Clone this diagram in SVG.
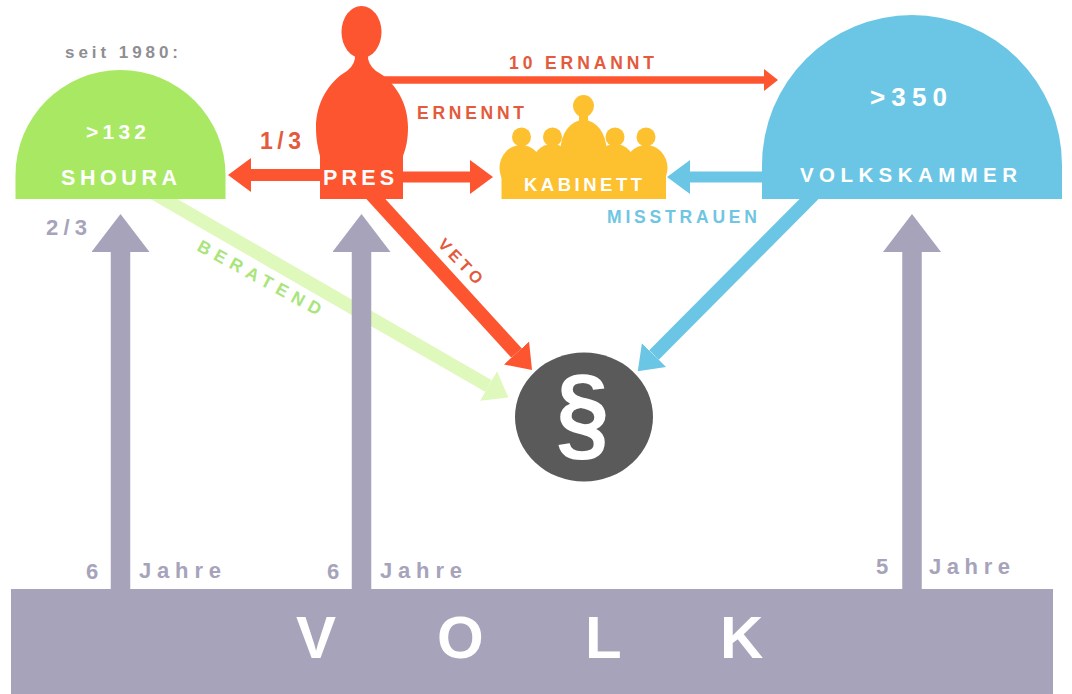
<svg xmlns="http://www.w3.org/2000/svg" width="1072" height="694" viewBox="0 0 1072 694">
<style>
text{font-family:"Liberation Sans",Arial,sans-serif;font-weight:bold}
.w{fill:#fff}
.red{fill:#fd5530}.yel{fill:#fdc02f}.grn{fill:#a9e863}.blu{fill:#6bc6e5}.pur{fill:#a6a3bb}
.tr{fill:#e45a3c}.tp{fill:#a6a3bb}.tb{fill:#6fc5e2}.tg{fill:#a9e57a}.tq{fill:#8e8e93}
.lp{stroke:#a6a3bb;stroke-width:19.5;fill:none}
.lr{stroke:#fd5530;fill:none}
.lb{stroke:#6bc6e5;fill:none}
</style>
<defs>
<marker id="hp" markerUnits="userSpaceOnUse" markerWidth="38" markerHeight="58" refX="0" refY="29" orient="auto"><path d="M0 0L38 29L0 58Z" fill="#a6a3bb"/></marker>
<marker id="hr" markerUnits="userSpaceOnUse" markerWidth="23" markerHeight="34" refX="0" refY="17" orient="auto"><path d="M0 0L23 17L0 34Z" fill="#fd5530"/></marker>
<marker id="hs" markerUnits="userSpaceOnUse" markerWidth="14" markerHeight="22" refX="0" refY="11" orient="auto"><path d="M0 0L14 11L0 22Z" fill="#fd5530"/></marker>
<marker id="hb" markerUnits="userSpaceOnUse" markerWidth="23" markerHeight="34" refX="0" refY="17" orient="auto"><path d="M0 0L23 17L0 34Z" fill="#6bc6e5"/></marker>
<marker id="hg" markerUnits="userSpaceOnUse" markerWidth="23" markerHeight="34" refX="0" refY="17" orient="auto"><path d="M0 0L23 17L0 34Z" fill="#dff8bb"/></marker>
</defs>
<rect width="1072" height="694" fill="#fff"/>
<g id="connectors">
<line x1="150" y1="191" x2="488.5" y2="386" stroke="#dff8bb" stroke-width="13.5" marker-end="url(#hg)"/>
<line class="lp" x1="120.5" y1="592" x2="120.5" y2="252" marker-end="url(#hp)"/>
<line class="lp" x1="361.5" y1="592" x2="361.5" y2="252" marker-end="url(#hp)"/>
<line class="lp" x1="912" y1="592" x2="912" y2="252" marker-end="url(#hp)"/>
<line class="lr" stroke-width="7.5" x1="370" y1="80" x2="764" y2="80" marker-end="url(#hs)"/>
<line class="lr" stroke-width="12" x1="330" y1="175" x2="251" y2="175" marker-end="url(#hr)"/>
<line class="lr" stroke-width="11" x1="395" y1="177" x2="470" y2="177" marker-end="url(#hr)"/>
<line class="lr" stroke-width="14" x1="364" y1="186" x2="516.5" y2="353" marker-end="url(#hr)"/>
<line class="lb" stroke-width="11" x1="770" y1="177" x2="690" y2="177" marker-end="url(#hb)"/>
<line class="lb" stroke-width="13.5" x1="822" y1="186" x2="654" y2="355" marker-end="url(#hb)"/>
<text class="tr" font-size="17.5" x="509" y="69" textLength="145">10 ERNANNT</text>
<text class="tr" font-size="17.5" x="417" y="119" textLength="107">ERNENNT</text>
<text class="tr" font-size="23" x="260" y="149" textLength="41">1/3</text>
<text class="tp" font-size="22" x="46" y="235" textLength="41">2/3</text>
<text class="tb" font-size="17.5" x="607" y="223" textLength="150">MISSTRAUEN</text>
<text class="tg" font-size="17.5" transform="translate(196 250) rotate(28.5)" textLength="138">BERATEND</text>
<text class="tr" font-size="16.5" transform="translate(437 245) rotate(46)" textLength="56">VETO</text>
<text class="tq" font-size="17" x="65" y="58" textLength="113">seit 1980:</text>
<text class="tp" font-size="22" x="86" y="579">6</text>
<text class="tp" font-size="22" x="139" y="578" textLength="82">Jahre</text>
<text class="tp" font-size="22" x="327" y="579">6</text>
<text class="tp" font-size="22" x="380" y="578" textLength="82">Jahre</text>
<text class="tp" font-size="22" x="876" y="574">5</text>
<text class="tp" font-size="22" x="929" y="574" textLength="81">Jahre</text>
</g>
<g id="shoura">
<path class="grn" d="M15.5 199V175A105 105 0 0 1 225.5 175V199Z"/>
<text class="w" font-size="21" x="86" y="139" textLength="60">&gt;132</text>
<text class="w" font-size="21.5" x="61" y="185" textLength="116">SHOURA</text>
</g>
<g id="pres">
<ellipse class="red" cx="361.5" cy="32" rx="20" ry="26"/>
<path class="red" d="M355 54Q356 64 347 71C328 82 316 104 316 127C316 140 318 148 320 156V199H403V156C406 148 408 140 408 127C408 104 396 82 376 71Q367 64 368 54Z"/>
<text class="w" font-size="21.5" x="323" y="185" textLength="71">PRES</text>
</g>
<g id="kabinett">
<ellipse class="yel" cx="521.5" cy="137" rx="9.5" ry="9.5"/>
<ellipse class="yel" cx="552.5" cy="137" rx="9.5" ry="9.5"/>
<ellipse class="yel" cx="615" cy="137" rx="9.5" ry="9.5"/>
<ellipse class="yel" cx="646" cy="137" rx="9.5" ry="9.5"/>
<ellipse class="yel" cx="583.5" cy="106" rx="10.5" ry="11"/>
<rect class="yel" x="579" y="112" width="9" height="12"/>
<ellipse class="yel" cx="521" cy="168" rx="21.5" ry="23"/>
<ellipse class="yel" cx="552" cy="165" rx="20" ry="21"/>
<ellipse class="yel" cx="615" cy="165" rx="20" ry="21"/>
<ellipse class="yel" cx="646" cy="168" rx="21.5" ry="23"/>
<ellipse class="yel" cx="583.5" cy="150" rx="23" ry="30"/>
<rect class="yel" x="501.5" y="168" width="164.5" height="31"/>
<text class="w" font-size="18.5" x="524" y="191" textLength="118">KABINETT</text>
</g>
<g id="volkskammer">
<path class="blu" d="M762 199V165A150 150 0 0 1 1062 165V199Z"/>
<text class="w" font-size="26" x="870" y="106" textLength="77">&gt;350</text>
<text class="w" font-size="20.5" x="800" y="182" textLength="217">VOLKSKAMMER</text>
</g>
<g id="gesetz">
<ellipse cx="584" cy="417" rx="69" ry="64.5" fill="#5a5a5a"/>
<text class="w" font-size="96" transform="translate(556 448) scale(1 1.1)">§</text>
</g>
<g id="volk">
<rect class="pur" x="11" y="589" width="1042" height="105"/>
<text class="w" font-size="60" x="296 437 585 720" y="658">VOLK</text>
</g>
</svg>
